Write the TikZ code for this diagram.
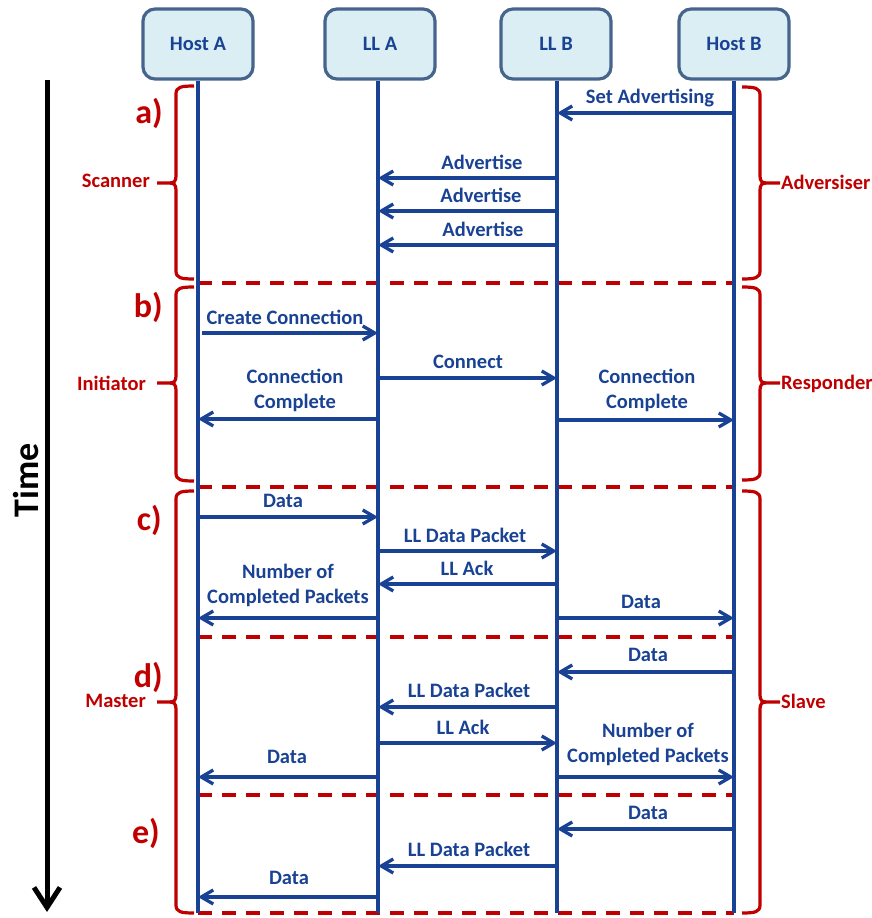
\documentclass[tikz,border=0pt]{standalone}
\usepackage{fontspec}
\setmainfont{Carlito}
\usetikzlibrary{arrows.meta}
\definecolor{lblue}{RGB}{25,66,148}
\definecolor{bred}{RGB}{192,0,0}
\definecolor{boxfill}{RGB}{218,238,243}
\definecolor{boxline}{RGB}{70,100,140}
\tikzset{
  actor/.style={draw=boxline, line width=3.2pt, fill=boxfill, rounded corners=12pt,
    minimum width=110pt, minimum height=70pt, text=lblue,
    font=\fontsize{20.5}{24}\selectfont\bfseries},
  life/.style={draw=lblue, line width=3.3pt},
  msg/.style={draw=lblue, line width=3.3pt, -{Straight Barb[length=12pt,width=14pt,line width=3.3pt]}},
  lbl/.style={text=lblue, font=\fontsize{20.5}{25}\selectfont\bfseries, align=center, inner sep=0pt},
  seplink/.style={draw=bred, line width=3.2pt, dash pattern=on 14pt off 10pt},
  brc/.style={draw=bred, line width=3.2pt, line join=round},
  rlab/.style={text=bred, font=\fontsize{20.5}{24}\selectfont\bfseries, inner sep=0pt},
  part/.style={text=bred, font=\fontsize{34}{40}\selectfont\bfseries, inner sep=0pt, anchor=east},
}
\newcommand\LBrace[3]{% top, tip, bottom
  \draw[brc] (194,#1) .. controls (181,#1) and (176,#1+1) .. (176,#1+8) -- (176,#2-7)
    .. controls (176,#2-2) and (174,#2) .. (170,#2) -- (157,#2);
  \draw[brc] (170,#2) .. controls (174,#2) and (176,#2+2) .. (176,#2+7) -- (176,#3-8)
    .. controls (176,#3-1) and (181,#3) .. (194,#3);}
\newcommand\RBrace[3]{%
  \draw[brc] (742,#1) .. controls (755,#1) and (760,#1+1) .. (760,#1+8) -- (760,#2-7)
    .. controls (760,#2-2) and (762,#2) .. (766,#2) -- (780,#2);
  \draw[brc] (766,#2) .. controls (762,#2) and (760,#2+2) .. (760,#2+7) -- (760,#3-8)
    .. controls (760,#3-1) and (755,#3) .. (742,#3);}
\begin{document}
\begin{tikzpicture}[x=1pt,y=-1pt]
\useasboundingbox (0,0) rectangle (872,918);
% actors
\node[actor] (hostA) at (198,44) {Host A};
\node[actor] (llA) at (380,44) {LL A};
\node[actor] (llB) at (556,44) {LL B};
\node[actor] (hostB) at (734,44) {Host B};
% lifeline x positions
\coordinate (xA) at (198,0);
\coordinate (xLA) at (378,0);
\coordinate (xLB) at (557,0);
\coordinate (xB) at (734,0);
% separators (under lifelines)
\foreach \yy in {283,487,637,795,913}{
  \draw[seplink] (xA |- 0,\yy) -- (xB |- 0,\yy);}
% lifelines
\coordinate (endA) at (198,913);
\coordinate (endLA) at (378,913);
\coordinate (endLB) at (557,913);
\coordinate (endB) at (734,913);
\draw[life] (xA |- hostA.south) -- (endA);
\draw[life] (xLA |- llA.south) -- (endLA);
\draw[life] (xLB |- llB.south) -- (endLB);
\draw[life] (xB |- hostB.south) -- (endB);
% time axis
\coordinate (t0) at (47,80);
\coordinate (t1) at (47,912);
\draw[line width=5pt, -{Straight Barb[length=20pt,width=26pt,line width=5pt]}] (t0) -- (t1);
\node[rotate=90, font=\fontsize{36}{40}\selectfont\bfseries, inner sep=0pt] (time) at (26,480) {Time};
% section letters
\node[part] (pa) at (163,113) {a)};
\node[part] (pb) at (163,307) {b)};
\node[part] (pc) at (162,520) {c)};
\node[part] (pd) at (163,677) {d)};
\node[part] (pe) at (160,833) {e)};
% braces
\LBrace{86}{183}{279}
\LBrace{287}{383}{481}
\LBrace{491}{702}{913}
\RBrace{87}{183}{279}
\RBrace{287}{383}{480}
\RBrace{491}{702}{913}
\node[rlab, anchor=east] (scn) at (150,181) {Scanner};
\node[rlab, anchor=east] (ini) at (146,383) {Initiator};
\node[rlab, anchor=east] (mst) at (146,701) {Master};
\node[rlab, anchor=west] (adv) at (781,182) {Adversiser};
\node[rlab, anchor=west] (rsp) at (781,384) {Responder};
\node[rlab, anchor=west] (slv) at (781,701) {Slave};
% a)
\draw[msg] (xB |- 0,113) -- (xLB |- 0,113);
\node[lbl] (m1) at (650,98) {Set Advertising};
\draw[msg] (xLB |- 0,178) -- (xLA |- 0,178);
\node[lbl] (m2) at (482,162) {Advertise};
\draw[msg] (xLB |- 0,211) -- (xLA |- 0,211);
\node[lbl] (m3) at (481,195) {Advertise};
\draw[msg] (xLB |- 0,245) -- (xLA |- 0,245);
\node[lbl] (m4) at (483,229) {Advertise};
% b)
\draw[msg] (202,333) -- (xLA |- 0,333);
\node[lbl] (m5) at (285,317) {Create Connection};
\draw[msg] (xLA |- 0,378) -- (xLB |- 0,378);
\node[lbl] (m6) at (468,362) {Connect};
\draw[msg] (xLA |- 0,419) -- (xA |- 0,419);
\node[lbl] (m7) at (295,390) {Connection\\Complete};
\draw[msg] (xLB |- 0,420) -- (xB |- 0,420);
\node[lbl] (m8) at (647,390) {Connection\\Complete};
% c)
\draw[msg] (xA |- 0,517) -- (xLA |- 0,517);
\node[lbl] (m9) at (283,501) {Data};
\draw[msg] (xLA |- 0,551) -- (xLB |- 0,551);
\node[lbl] (m10) at (465,535) {LL Data Packet};
\draw[msg] (xLB |- 0,584) -- (xLA |- 0,584);
\node[lbl] (m11) at (467,568) {LL Ack};
\draw[msg] (xLA |- 0,618) -- (xA |- 0,618);
\node[lbl] (m12) at (288,585) {Number of\\Completed Packets};
\draw[msg] (xLB |- 0,618) -- (xB |- 0,618);
\node[lbl] (m13) at (641,602) {Data};
% d)
\draw[msg] (xB |- 0,672) -- (xLB |- 0,672);
\node[lbl] (m14) at (648,655) {Data};
\draw[msg] (xLB |- 0,707) -- (xLA |- 0,707);
\node[lbl] (m15) at (469,690) {LL Data Packet};
\draw[msg] (xLA |- 0,743) -- (xLB |- 0,743);
\node[lbl] (m16) at (463,727) {LL Ack};
\draw[msg] (xLA |- 0,777) -- (xA |- 0,777);
\node[lbl] (m17) at (287,757) {Data};
\draw[msg] (xLB |- 0,777) -- (xB |- 0,777);
\node[lbl] (m18) at (648,744) {Number of\\Completed Packets};
% e)
\draw[msg] (xB |- 0,829) -- (xLB |- 0,829);
\node[lbl] (m19) at (648,813) {Data};
\draw[msg] (xLB |- 0,866) -- (xLA |- 0,866);
\node[lbl] (m20) at (469,849) {LL Data Packet};
\draw[msg] (xLA |- 0,897) -- (xA |- 0,897);
\node[lbl] (m21) at (289,878) {Data};
\end{tikzpicture}
\end{document}
